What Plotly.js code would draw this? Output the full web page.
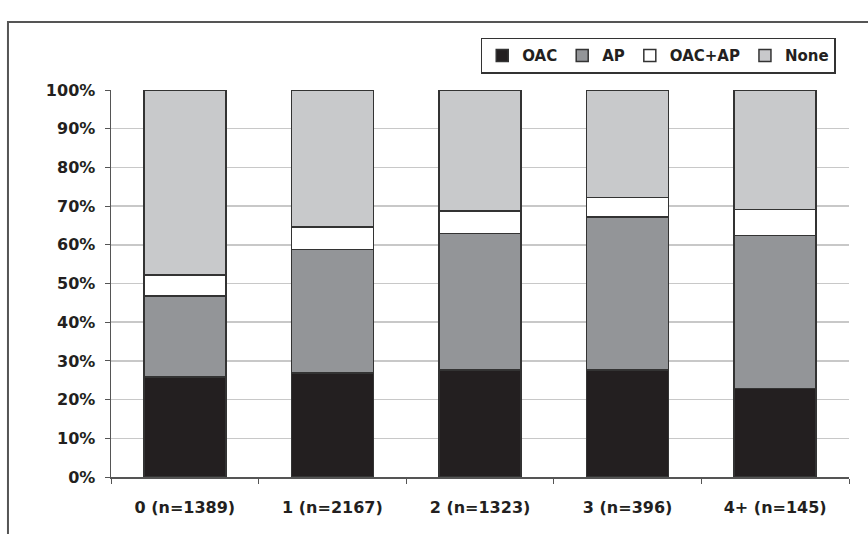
<!DOCTYPE html>
<html>
<head>
<meta charset="utf-8">
<script src="https://cdn.plot.ly/plotly-3.0.1.min.js"></script>
<style>html,body{margin:0;padding:0;background:#fff;}#chart{width:868px;height:534px;}</style>
</head>
<body>
<div id="chart"></div>
<script>
const categories = ["0 (n=1389)", "1 (n=2167)", "2 (n=1323)", "3 (n=396)", "4+ (n=145)"];
const seriesNames = ["OAC", "AP", "OAC+AP", "None"];
const oac = [25.9, 26.9, 27.6, 27.6, 22.9];
const ap = [20.9, 31.9, 35.3, 39.6, 39.5];
const oacAp = [5.4, 5.8, 5.8, 5.0, 6.7];
const none = [47.8, 35.4, 31.3, 27.8, 30.9];
const yTickVals = [0, 10, 20, 30, 40, 50, 60, 70, 80, 90, 100];
const yTickText = ["0%", "10%", "20%", "30%", "40%", "50%", "60%", "70%", "80%", "90%", "100%"];

const colors = ["#231f20", "#939598", "#ffffff", "#c8c9cb"];
const values = [oac, ap, oacAp, none];
const FONT = "DejaVu Sans, Liberation Sans, Arial, sans-serif";

const traces = values.map((v, i) => ({
  type: "bar",
  name: seriesNames[i],
  x: categories,
  y: v,
  marker: { color: colors[i], line: { color: "#333333", width: 1.5 } },
  hoverinfo: "skip"
}));

const layout = {
  width: 868,
  height: 534,
  margin: { l: 111, r: 19, t: 90, b: 57 },
  paper_bgcolor: "#ffffff",
  plot_bgcolor: "#ffffff",
  barmode: "stack",
  bargap: 0.445,
  font: { family: FONT, color: "#231f20" },
  showlegend: true,
  legend: {
    orientation: "h",
    traceorder: "normal",
    x: 0.501, xanchor: "left",
    y: 1.135, yanchor: "top",
    bgcolor: "#ffffff",
    bordercolor: "#333333",
    borderwidth: 1.5,
    font: { size: 15, weight: 700, family: FONT, color: "#231f20" },
    itemwidth: 30
  },
  xaxis: {
    type: "category",
    showgrid: false,
    showline: true,
    linecolor: "#555555",
    linewidth: 1.5,
    ticks: "outside",
    tickson: "boundaries",
    ticklen: 5,
    tickcolor: "#555555",
    tickfont: { size: 16, weight: 700, family: FONT, color: "#231f20" },
    ticklabelstandoff: 15,
    fixedrange: true
  },
  yaxis: {
    range: [0, 100],
    tickvals: yTickVals,
    ticktext: yTickText,
    showgrid: true,
    gridcolor: "#c8c8c8",
    gridwidth: 1.5,
    showline: true,
    linecolor: "#555555",
    linewidth: 1.5,
    ticks: "outside",
    ticklen: 5,
    tickcolor: "#555555",
    tickfont: { size: 16, weight: 700, family: FONT, color: "#231f20" },
    ticklabelstandoff: 6,
    zeroline: false,
    fixedrange: true
  },
  shapes: [{
    type: "rect", xref: "paper", yref: "paper",
    x0: -0.1396, x1: 1.2, y0: -0.3, y1: 1.176,
    line: { color: "#555555", width: 2 },
    fillcolor: "rgba(0,0,0,0)",
    layer: "below"
  }]
};

Plotly.newPlot("chart", traces, layout, { displayModeBar: false, staticPlot: true });
</script>
</body>
</html>
